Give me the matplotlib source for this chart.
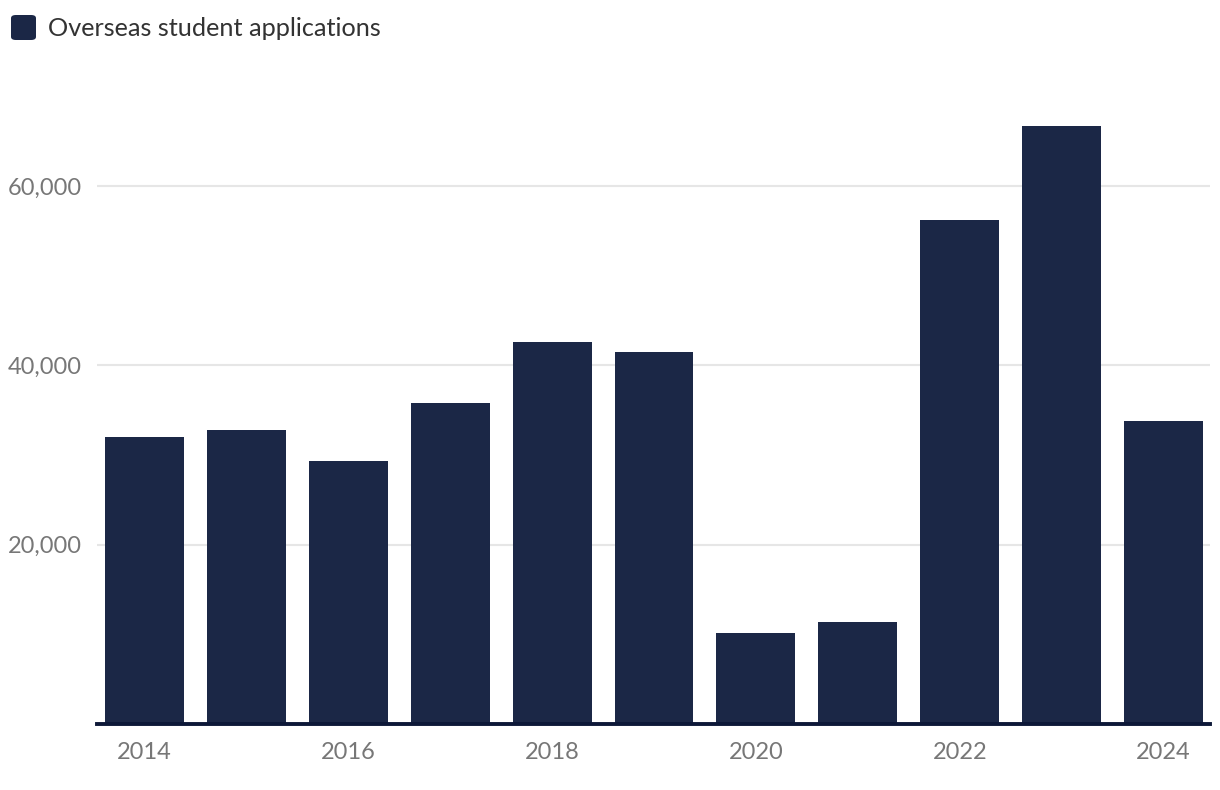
import matplotlib
matplotlib.use("Agg")
import matplotlib.pyplot as plt
from matplotlib.patches import FancyBboxPatch
from matplotlib.ticker import FuncFormatter

years = [2014, 2015, 2016, 2017, 2018, 2019, 2020, 2021, 2022, 2023, 2024]
applications = [32000, 32800, 29300, 35800, 42600, 41500, 10150, 11400, 56200, 66700, 33800]
xtick_years = [2014, 2016, 2018, 2020, 2022, 2024]
ytick_vals = [20000, 40000, 60000]
series_name = "Overseas student applications"

bar_color = "#1b2746"
plt.rcParams['font.family'] = ['Lato', 'DejaVu Sans']

W, H = 1220, 790
fig = plt.figure(figsize=(W / 100, H / 100), dpi=100)
left, right, bottom, top = 97, 1210, 724, 96.5
ax = fig.add_axes([left / W, 1 - bottom / H, (right - left) / W, (bottom - top) / H])

ax.bar(years, applications, width=0.775, color=bar_color, zorder=2)
ax.set_xlim(2013.534, 2024.456)
ax.set_ylim(0, 70000)

ax.set_yticks(ytick_vals)
ax.yaxis.set_major_formatter(FuncFormatter(lambda v, p: f"{int(v):,}"))
ax.set_xticks(xtick_years)
ax.set_xticklabels([str(y) for y in xtick_years])

ax.grid(axis='y', color='#e6e6e6', linewidth=1.5, zorder=0)
ax.tick_params(axis='both', length=0, labelsize=17, labelcolor='#777777')
ax.tick_params(axis='x', pad=13)
ax.tick_params(axis='y', pad=11)
for s in ['top', 'right', 'left']:
    ax.spines[s].set_visible(False)
ax.spines['bottom'].set_color('#0d1838')
ax.spines['bottom'].set_linewidth(2.8)
ax.spines['bottom'].set_zorder(3)
ax.set_axisbelow(True)

# legend
sq = FancyBboxPatch((11 / W, 1 - 40 / H), 25 / W, 25 / H, boxstyle="round,pad=0,rounding_size=0.004",
                    transform=fig.transFigure, facecolor=bar_color, edgecolor='none')
fig.patches.append(sq)
fig.text(48 / W, 1 - 28 / H, series_name, fontsize=18.2, color='#333333', va='center', ha='left')

fig.savefig("out.png", dpi=100)
